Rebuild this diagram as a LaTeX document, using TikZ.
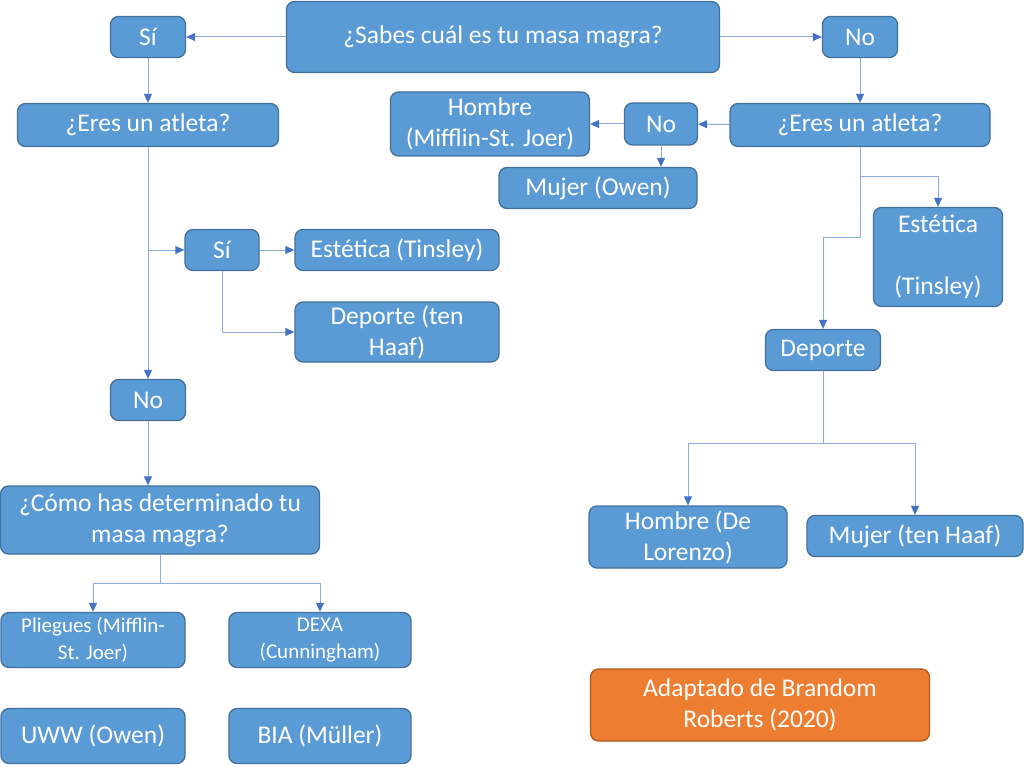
\documentclass[tikz,border=0pt]{standalone}
\usepackage{fontspec}
\setmainfont{Carlito}
\usetikzlibrary{arrows.meta}
\definecolor{boxfill}{HTML}{5B9BD5}
\definecolor{boxdraw}{HTML}{41719C}
\definecolor{linkcol}{HTML}{8FAADC}
\definecolor{tipcol}{HTML}{4472C4}
\definecolor{notefill}{HTML}{ED7D31}
\definecolor{notedraw}{HTML}{AE5A21}
\tikzstyle{box} = [rectangle, draw=boxdraw, line width=1.3pt, fill=boxfill,
  text=white, align=center, rounded corners=8pt, inner sep=2pt,
  font=\fontsize{25.5}{31}\selectfont]
\tikzstyle{smallbox} = [box, font=\fontsize{21}{27}\selectfont]
\tikzstyle{note} = [box, fill=notefill, draw=notedraw]
\tikzstyle{line} = [draw=linkcol, line width=1pt,
  -{Triangle[length=9pt, width=8pt, color=tipcol]}]

\begin{document}
\begin{tikzpicture}[x=1pt, y=-1pt]
  \useasboundingbox (0,0) rectangle (1024,767);

  \node [box, minimum width=433pt, minimum height=71pt] (masa) at (503,37) {¿Sabes cuál es tu masa magra?};
  \node [box, minimum width=75pt, minimum height=41pt] (siTop) at (148,37) {Sí};
  \node [box, minimum width=75pt, minimum height=41pt] (noTop) at (860,37) {No};

  % rama izquierda
  \node [box, minimum width=261pt, minimum height=43pt] (atletaL) at (148,125) {¿Eres un atleta?};
  \node [box, minimum width=74pt, minimum height=41pt] (siL) at (222,250) {Sí};
  \node [box, minimum width=204pt, minimum height=41pt] (esteticaL) at (397,250) {Estética (Tinsley)};
  \node [box, minimum width=204pt, minimum height=60pt] (deporteL) at (397,332) {Deporte (ten\\Haaf)};
  \node [box, minimum width=75pt, minimum height=41pt] (noL) at (148,400) {No};
  \node [box, minimum width=319pt, minimum height=68pt] (metodo) at (160,520) {¿Cómo has determinado tu\\masa magra?};
  \node [smallbox, minimum width=184pt, minimum height=55pt] (pliegues) at (93,640) {Pliegues (Mifflin-\\St. Joer)};
  \node [smallbox, minimum width=182pt, minimum height=55pt] (dexa) at (320,640) {DEXA\\(Cunningham)};
  \node [box, minimum width=184pt, minimum height=55pt] (uww) at (93,736) {UWW (Owen)};
  \node [box, minimum width=182pt, minimum height=55pt] (bia) at (320,736) {BIA (Müller)};

  % rama derecha
  \node [box, minimum width=260pt, minimum height=43pt] (atletaR) at (860,125) {¿Eres un atleta?};
  \node [box, minimum width=73pt, minimum height=42pt] (noR) at (661,124) {No};
  \node [box, minimum width=199pt, minimum height=64pt] (hombreR) at (490,124) {Hombre\\(Mifflin-St. Joer)};
  \node [box, minimum width=198pt, minimum height=41pt] (mujerR) at (598,188) {Mujer (Owen)};
  \node [box, minimum width=129pt, minimum height=99pt] (esteticaR) at (938,257) {Estética\\ \\(Tinsley)};
  \node [box, minimum width=115pt, minimum height=41pt] (deporteR) at (823,350) {Deporte};
  \node [box, minimum width=198pt, minimum height=62pt] (hombreD) at (688,537) {Hombre (De\\Lorenzo)};
  \node [box, minimum width=216pt, minimum height=41pt] (mujerD) at (915,536) {Mujer (ten Haaf)};

  \node [note, minimum width=339pt, minimum height=72pt] (fuente) at (760,705) {Adaptado de Brandom\\Roberts (2020)};

  \coordinate (cSi) at (148,250);
  \coordinate (cMet) at (160,583);
  \coordinate (cEst) at (860,177);
  \coordinate (cDepR) at (860,237);
  \coordinate (cSexo) at (823,443);

  \path [line] (masa) -- (siTop);
  \path [line] (masa) -- (noTop);
  \path [line] (siTop) -- (atletaL);
  \path [line] (noTop) -- (atletaR);

  \path [line] (atletaL) -- (noL);
  \path [line] (cSi) -- (siL);
  \path [line] (siL) -- (esteticaL);
  \path [line] (siL.south) |- (deporteL.west);
  \path [line] (noL.south) -- (noL.south |- metodo.north);
  \path [line] (metodo.south |- cMet) -| (pliegues.north);
  \path [line] (metodo.south) -- (cMet) -| (dexa.north);

  \path [line] (atletaR) -- (noR);
  \path [line] (noR) -- (hombreR);
  \path [line] (noR.south) -- (noR.south |- mujerR.north);
  \path [line] (atletaR.south) -- (cEst) -| (esteticaR.north);
  \path [line] (cEst) -- (cDepR) -| (deporteR.north);
  \path [line] (deporteR.south) -- (cSexo) -| (hombreD.north);
  \path [line] (cSexo) -| (mujerD.north);

\end{tikzpicture}
\end{document}
